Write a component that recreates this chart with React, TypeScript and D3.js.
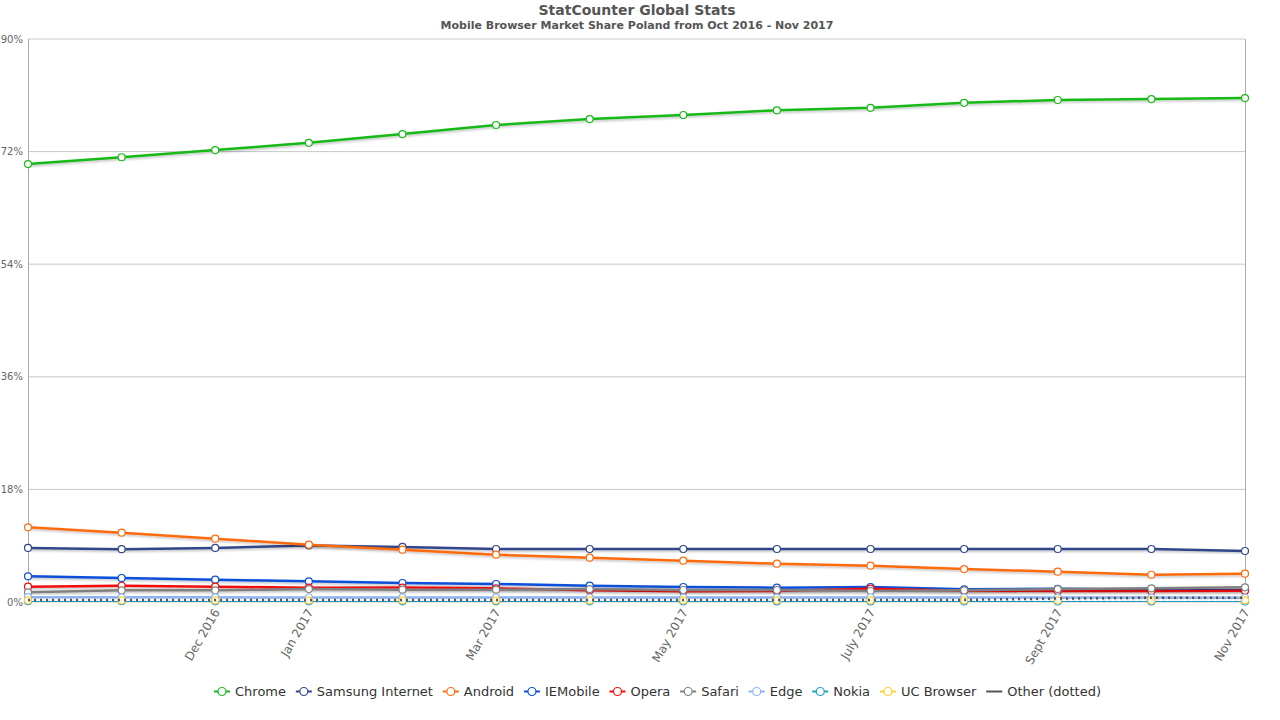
import React, { useMemo } from "react";
import * as d3 from "d3";

const months = ["Oct 2016","Nov 2016","Dec 2016","Jan 2017","Feb 2017","Mar 2017","Apr 2017","May 2017","June 2017","July 2017","Aug 2017","Sept 2017","Oct 2017","Nov 2017"];
const tickLabels = ["Dec 2016","Jan 2017","Mar 2017","May 2017","July 2017","Sept 2017","Nov 2017"];
const yTicks = [0, 18, 36, 54, 72, 90];

const chrome = [70.0, 71.1, 72.25, 73.4, 74.8, 76.25, 77.2, 77.85, 78.6, 79.0, 79.8, 80.25, 80.4, 80.55];
const samsung = [8.65, 8.45, 8.65, 9.05, 8.8, 8.47, 8.47, 8.47, 8.47, 8.47, 8.47, 8.47, 8.47, 8.15];
const android = [11.94, 11.08, 10.12, 9.16, 8.36, 7.56, 7.08, 6.6, 6.12, 5.8, 5.27, 4.85, 4.36, 4.52];
const iemobile = [4.1, 3.84, 3.57, 3.3, 3.04, 2.88, 2.61, 2.4, 2.29, 2.4, 2.02, 2.1, 1.95, 1.9];
const opera = [2.45, 2.6, 2.45, 2.29, 2.3, 2.18, 1.86, 1.7, 1.76, 2.13, 1.8, 1.76, 1.76, 1.8];
const safari = [1.54, 1.86, 1.86, 2.07, 1.97, 1.97, 2.07, 1.92, 1.92, 1.76, 1.86, 2.07, 2.18, 2.34];
const edge = [0.78, 0.75, 0.74, 0.72, 0.72, 0.72, 0.7, 0.7, 0.7, 0.72, 0.72, 0.7, 0.7, 0.68];
const nokia = [0.12, 0.12, 0.11, 0.11, 0.1, 0.1, 0.1, 0.09, 0.09, 0.09, 0.09, 0.08, 0.08, 0.08];
const ucBrowser = [0.27, 0.27, 0.27, 0.27, 0.27, 0.27, 0.27, 0.27, 0.27, 0.27, 0.27, 0.27, 0.27, 0.27];
const other = [0.33, 0.32, 0.32, 0.32, 0.32, 0.32, 0.32, 0.32, 0.32, 0.32, 0.34, 0.55, 0.68, 0.7];

const seriesNames = ["Chrome","Samsung Internet","Android","IEMobile","Opera","Safari","Edge","Nokia","UC Browser","Other (dotted)"];
const seriesValues = [chrome, samsung, android, iemobile, opera, safari, edge, nokia, ucBrowser, other];
const seriesColors = ["#18b918","#33468a","#ff6b0f","#0a4fd8","#f20d0d","#808080","#8cb4f5","#20a0c8","#ffd030","#555555"];

const W = 1280, H = 720;
const FONT = "'DejaVu Sans', sans-serif";

function measure(text: string, font: string): number {
  if (typeof document === "undefined") return text.length * 7;
  const c = document.createElement("canvas").getContext("2d");
  if (!c) return text.length * 7;
  c.font = font;
  return c.measureText(text).width;
}

export default function App() {
  const x = d3.scalePoint<string>().domain(months).range([28, 1245]);
  const y = d3.scaleLinear().domain([0, 90]).range([602, 39]);
  const line = d3.line<number>().x((_, i) => x(months[i]) as number).y((d) => y(d));

  const legend = useMemo(() => {
    const font = `13px ${FONT}`;
    const widths = seriesNames.map((n) => 21 + measure(n, font));
    const start = 214, end = 1101;
    const total = widths.reduce((a, b) => a + b, 0);
    const gap = (end - start - total) / (seriesNames.length - 1);
    let cx = start;
    return seriesNames.map((n, i) => {
      const pos = cx;
      cx += widths[i] + gap;
      return { name: n, x: pos, color: seriesColors[i], i };
    });
  }, []);

  return (
    <svg width={W} height={H} style={{ position: "absolute", left: 0, top: 0, background: "#fff" }} fontFamily={FONT}>
      <defs>
        <filter id="shadow" x="-5%" y="-50%" width="110%" height="200%">
          <feDropShadow dx="1" dy="1.5" stdDeviation="1" floodColor="#000" floodOpacity="0.25" />
        </filter>
      </defs>
      <text x={637} y={15} textAnchor="middle" fontSize={14} fontWeight="bold" fill="#555">StatCounter Global Stats</text>
      <text x={637} y={29} textAnchor="middle" fontSize={11} fontWeight="bold" fill="#555">Mobile Browser Market Share Poland from Oct 2016 - Nov 2017</text>

      {yTicks.map((t) => (
        <g key={t}>
          <line x1={28} x2={1245} y1={y(t)} y2={y(t)} stroke="#c8c8c8" strokeWidth={1} />
          <text x={23} y={y(t) + 3.5} textAnchor="end" fontSize={10} fill="#666">{t}%</text>
        </g>
      ))}
      <line x1={28.5} x2={28.5} y1={39} y2={602} stroke="#aaa" />
      <line x1={1245.5} x2={1245.5} y1={39} y2={602} stroke="#aaa" />

      {tickLabels.map((t) => {
        const px = x(t) ?? 0;
        return (
          <text key={t} transform={`translate(${px + 5},${612}) rotate(-60)`} textAnchor="end" fontSize={12} fill="#666">{t}</text>
        );
      })}

      {seriesValues.map((vals, si) => {
        const isOther = si === seriesValues.length - 1;
        return (
          <g key={si}>
            <path d={line(vals) || ""} fill="none" stroke={seriesColors[si]} strokeWidth={2.5}
              strokeDasharray={isOther ? "2,4" : undefined} filter="url(#shadow)" strokeLinejoin="round" />
            {!isOther && vals.map((v, i) => (
              <circle key={i} cx={x(months[i]) as number} cy={y(v)} r={3.5} fill="#fff" stroke={seriesColors[si]} strokeWidth={1.2} />
            ))}
          </g>
        );
      })}

      {legend.map((l) => (
        <g key={l.name}>
          <line x1={l.x} x2={l.x + 16} y1={691.5} y2={691.5} stroke={l.color} strokeWidth={2} />
          {l.i < seriesNames.length - 1 && (
            <circle cx={l.x + 8} cy={691.5} r={4} fill="#fff" stroke={l.color} strokeWidth={1.2} />
          )}
          <text x={l.x + 21} y={696} fontSize={13} fill="#333">{l.name}</text>
        </g>
      ))}
    </svg>
  );
}
